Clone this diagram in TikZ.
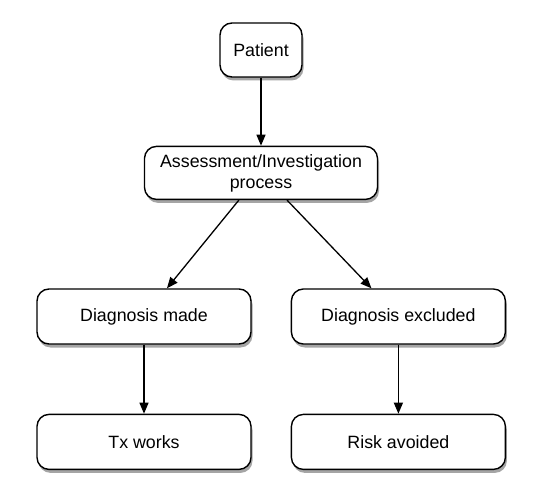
\documentclass[tikz,border=0pt]{standalone}
\usepackage{fontspec}
\setmainfont{Liberation Sans}
\usepackage{tikz}
\usetikzlibrary{positioning,shadows,arrows.meta}

\tikzset{
  stage/.style={draw, line width=1.4pt, rounded corners=12pt, fill=white,
    align=center, font=\fontsize{17.8}{21}\selectfont,
    drop shadow={shadow xshift=1.5pt, shadow yshift=-3.5pt, opacity=0.5, fill=black!70}},
  outcome/.style={stage, minimum width=214pt, minimum height=55pt},
  flow/.style={draw, line width=1.3pt, -{Triangle[length=11pt,width=9pt]}}
}

\begin{document}
\begin{tikzpicture}[x=1pt,y=-1pt,node distance=68pt]
  \useasboundingbox (0,0) rectangle (546,489);
  % Top of the chain: the patient and the work-up
  \node[stage, minimum width=82pt, minimum height=54pt] (patient) at (261,50) {Patient};
  \node[stage, minimum width=233pt, minimum height=53pt] (assess) [below=of patient]
    {Assessment/Investigation\\process};
  % The two branches
  \node[outcome] (made) at (144,316.5) {Diagnosis made};
  \node[outcome] (excl) [right=39pt of made] {Diagnosis excluded};
  \node[outcome] (tx) [below=69pt of made] {Tx works};
  \node[outcome] (risk) [below=69pt of excl] {Risk avoided};
  % Connectors
  \path[flow] (patient) -- (assess);
  \path[flow] (assess) -- (made);
  \path[flow] (assess) -- (excl);
  \path[flow] (made) -- (tx);
  \path[flow] (excl) -- (risk);
\end{tikzpicture}
\end{document}
